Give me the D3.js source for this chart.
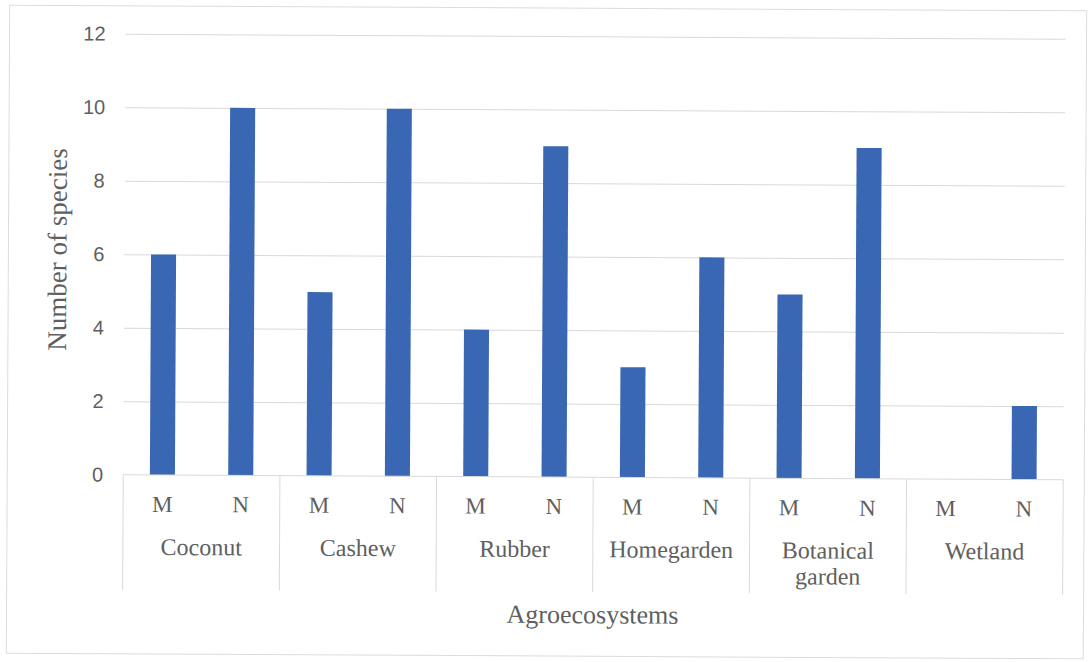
<!DOCTYPE html>
<html>
<head>
<meta charset="utf-8">
<script src="https://cdn.jsdelivr.net/npm/d3@7"></script>
<style>
  body { margin: 0; background: #fff; }
</style>
</head>
<body>
<div id="chart"></div>
<script>
// data
const groups = ["Coconut", "Cashew", "Rubber", "Homegarden", "Botanical garden", "Wetland"];
const groupLines = [["Coconut"], ["Cashew"], ["Rubber"], ["Homegarden"], ["Botanical", "garden"], ["Wetland"]];
const subs = ["M", "N"];
const mValues = [6, 5, 4, 3, 5, 0];
const nValues = [10, 10, 9, 6, 9, 2];
const yTicks = [0, 2, 4, 6, 8, 10, 12];

const W = 1090, H = 662;
const margin = { top: 36, right: 26, bottom: 185, left: 124 };
const innerW = W - margin.left - margin.right;
const innerH = H - margin.top - margin.bottom;

const svg = d3.select("#chart").append("svg")
  .attr("width", W)
  .attr("height", H);

// the scan is tilted a little
const root = svg.append("g")
  .attr("transform", `rotate(0.3, ${W / 2}, ${H / 2})`);

// outer frame
root.append("rect")
  .attr("x", 8).attr("y", 8)
  .attr("width", 1077).attr("height", 648)
  .attr("fill", "none")
  .attr("stroke", "#dcdcdc");

const g = root.append("g")
  .attr("transform", `translate(${margin.left},${margin.top})`);

const x0 = d3.scaleBand().domain(groups).range([0, innerW]).padding(0);
const x1 = d3.scaleBand().domain(subs).range([0, x0.bandwidth()])
  .paddingInner(0.68).paddingOuter(0.34);
const y = d3.scaleLinear().domain([0, 12]).range([innerH, 0]);

// y axis + grid
const yAxis = g.append("g")
  .call(d3.axisLeft(y).tickValues(yTicks).tickSize(-innerW).tickPadding(20));
yAxis.select(".domain").remove();
yAxis.selectAll(".tick line").attr("stroke", "#d9d9d9");
yAxis.selectAll(".tick text")
  .attr("fill", "#5f5f5f")
  .style("font-family", "'Liberation Sans', Arial, sans-serif")
  .style("font-size", "20px");
yAxis.selectAll(".tick").filter(d => d === 0).select("line").remove();

// bars
const rows = groups.map((gname, i) => ({ group: gname, values: [mValues[i], nValues[i]] }));
g.selectAll(".grp")
  .data(rows)
  .enter().append("g")
    .attr("transform", d => `translate(${x0(d.group)},0)`)
  .selectAll("rect")
  .data(d => subs.map((s, j) => ({ sub: s, value: d.values[j] })))
  .enter().append("rect")
    .attr("x", d => x1(d.sub))
    .attr("y", d => y(d.value))
    .attr("width", x1.bandwidth())
    .attr("height", d => innerH - y(d.value))
    .attr("fill", "#3a67b3");

// category axis box
const boxBottom = innerH + 115;
const axisColor = "#d9d9d9";
g.append("line")
  .attr("x1", 0).attr("x2", innerW)
  .attr("y1", innerH).attr("y2", innerH)
  .attr("stroke", axisColor);
const seps = groups.map(d => x0(d)).concat([innerW]);
g.selectAll(".sep")
  .data(seps)
  .enter().append("line")
    .attr("x1", d => d).attr("x2", d => d)
    .attr("y1", innerH).attr("y2", boxBottom)
    .attr("stroke", axisColor);

const serif = "'Liberation Serif', 'Times New Roman', serif";
const textColor = "#5f5f5f";

// sub labels
groups.forEach(gname => {
  subs.forEach(s => {
    g.append("text")
      .attr("x", x0(gname) + x1(s) + x1.bandwidth() / 2)
      .attr("y", innerH + 37)
      .attr("text-anchor", "middle")
      .attr("fill", textColor)
      .style("font-family", serif)
      .style("font-size", "23px")
      .text(s);
  });
});

// group labels
groups.forEach((gname, i) => {
  const t = g.append("text")
    .attr("x", x0(gname) + x0.bandwidth() / 2)
    .attr("y", innerH + 80)
    .attr("text-anchor", "middle")
    .attr("fill", textColor)
    .style("font-family", serif)
    .style("font-size", "24px");
  groupLines[i].forEach((line, k) => {
    t.append("tspan")
      .attr("x", x0(gname) + x0.bandwidth() / 2)
      .attr("dy", k === 0 ? 0 : 26)
      .text(line);
  });
});

// axis titles
g.append("text")
  .attr("x", innerW / 2)
  .attr("y", innerH + 146)
  .attr("text-anchor", "middle")
  .attr("fill", textColor)
  .style("font-family", serif)
  .style("font-size", "26px")
  .text("Agroecosystems");

g.append("text")
  .attr("transform", "rotate(-90)")
  .attr("x", -(252 - margin.top))
  .attr("y", -58)
  .attr("text-anchor", "middle")
  .attr("fill", textColor)
  .style("font-family", serif)
  .style("font-size", "27px")
  .text("Number of species");
</script>
</body>
</html>
